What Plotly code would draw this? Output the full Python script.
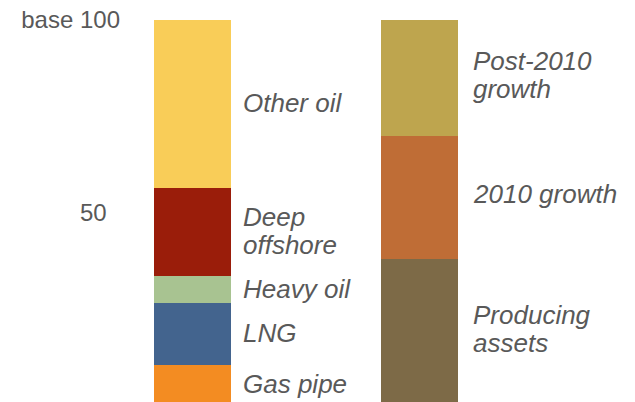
import plotly.graph_objects as go

# Stacked composition of each bar (base 100)
bars = [0, 1]

mix_labels = ["Gas pipe", "LNG", "Heavy oil", "Deep offshore", "Other oil"]
mix_values = [10.5, 16, 7, 23, 43.5]
mix_colors = ["#F38C22", "#43648E", "#A8C391", "#9A1D0A", "#F9CD58"]
mix_text = [["Gas pipe"], ["LNG"], ["Heavy oil"], ["Deep", "offshore"], ["Other oil"]]

growth_labels = ["Producing assets", "2010 growth", "Post-2010 growth"]
growth_values = [38, 32, 30]
growth_colors = ["#7D6A47", "#BF6D36", "#BEA54E"]
growth_text = [["Producing", "assets"], ["2010 growth"], ["Post-2010", "growth"]]

tick_vals = [50, 100]
tick_text = ["50\u00a0\u00a0", "base 100"]

BAR_W = 0.34
TEXT_COLOR = "#595959"
FONT = "Liberation Sans, Arial, sans-serif"
LABEL_SIZE = 26
LINE_GAP = 28

fig = go.Figure()
annotations = []


def add_stack(xpos, labels, values, colors, texts, xshift, yshift):
    base = 0
    for name, val, col, lines in zip(labels, values, colors, texts):
        fig.add_trace(go.Bar(
            x=[xpos], y=[val], name=name, width=BAR_W,
            marker=dict(color=col, line=dict(width=0)),
            hoverinfo="name+y",
        ))
        mid = base + val / 2
        n = len(lines)
        for i, line in enumerate(lines):
            annotations.append(dict(
                x=xpos + BAR_W / 2, y=mid, xref="x", yref="y",
                xanchor="left", yanchor="middle", xshift=xshift,
                yshift=((n - 1) / 2 - i) * LINE_GAP + yshift,
                text="<i>" + line + "</i>", showarrow=False,
                font=dict(family=FONT, size=LABEL_SIZE, color=TEXT_COLOR),
            ))
        base += val


add_stack(bars[0], mix_labels, mix_values, mix_colors, mix_text, 10, 1)
add_stack(bars[1], growth_labels, growth_values, growth_colors, growth_text, 13, 3)

fig.update_layout(
    width=635, height=402,
    margin=dict(l=121, r=0, t=20, b=0),
    barmode="stack",
    showlegend=False,
    plot_bgcolor="white", paper_bgcolor="white",
    annotations=annotations,
    xaxis=dict(range=[-0.315, 1.949], visible=False, fixedrange=True),
    yaxis=dict(
        range=[0.8, 100], tickvals=tick_vals, ticktext=tick_text,
        showgrid=False, zeroline=False, showline=False, ticks="",
        tickfont=dict(family=FONT, size=24, color=TEXT_COLOR),
        fixedrange=True,
    ),
)

fig.write_html("out.html")
